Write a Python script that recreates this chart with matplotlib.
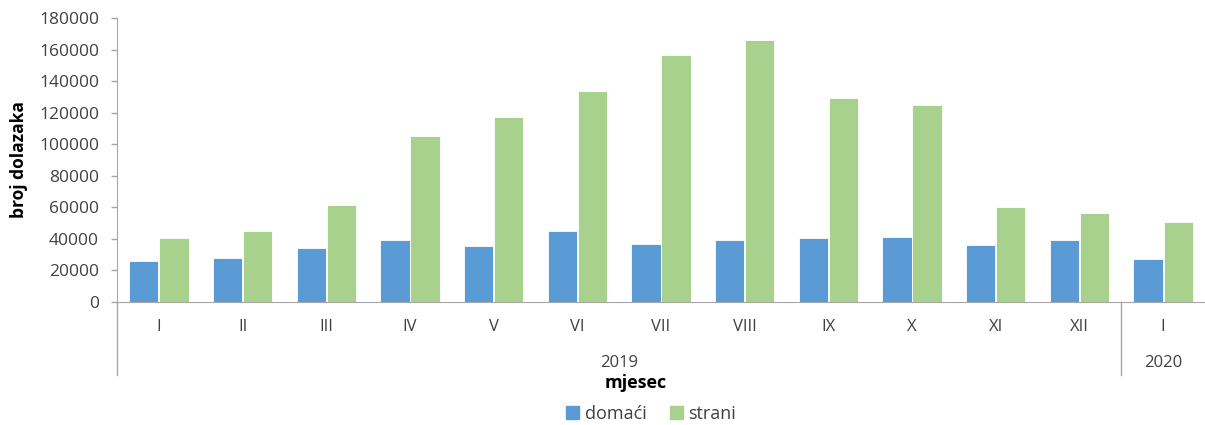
import matplotlib.pyplot as plt
import matplotlib.transforms as mtransforms
from matplotlib.patches import Patch
import numpy as np

plt.rcParams['font.family'] = ['Open Sans', 'DejaVu Sans']

mjeseci = ['I', 'II', 'III', 'IV', 'V', 'VI', 'VII', 'VIII', 'IX', 'X', 'XI', 'XII', 'I']
godine = ['2019', '2020']
domaci = [26000, 28000, 34000, 39500, 35500, 45000, 36500, 39300, 40500, 41000, 36000, 39300, 27000]
strani = [40500, 45000, 61500, 105000, 117000, 134000, 156500, 166000, 129000, 125000, 60000, 56500, 51000]

plava = '#5B9BD5'
zelena = '#A9D18E'
siva = '#A6A6A6'
tekst = '#404040'

fig = plt.figure(figsize=(12.05, 4.25), dpi=100)
ax = fig.add_axes([117/1205, 1-302/425, 1-117/1205, 284/425])

x = np.arange(len(mjeseci))
w = 0.35
ax.bar(x - 0.18, domaci, w, color=plava, edgecolor='white', linewidth=0.6)
ax.bar(x + 0.18, strani, w, color=zelena, edgecolor='white', linewidth=0.6)

ax.set_xlim(-0.5, len(mjeseci) - 0.5)
ax.set_ylim(0, 180000)
ax.set_yticks(np.arange(0, 180001, 20000))
ax.tick_params(axis='y', colors=siva, labelcolor=tekst, labelsize=12.5, length=4, width=1, pad=9)
ax.set_xticks(x)
ax.set_xticklabels(mjeseci)
ax.tick_params(axis='x', length=0, pad=12, labelcolor=tekst, labelsize=12)

for s in ['top', 'right']:
    ax.spines[s].set_visible(False)
ax.spines['left'].set_color(siva)
ax.spines['bottom'].set_color(siva)

# separatori ispod osi (kategorije po godinama)
trans = mtransforms.blended_transform_factory(ax.transData, ax.transAxes)
dno = -(375 - 302) / 284
for xs in [-0.5, 11.5]:
    ax.plot([xs, xs], [0, dno], color=siva, lw=1, transform=trans, clip_on=False)

ax.text(5.5, -(363 - 302) / 284, godine[0], transform=trans, ha='center', va='center',
        fontsize=12, color=tekst)
ax.text(12, -(363 - 302) / 284, godine[1], transform=trans, ha='center', va='center',
        fontsize=12, color=tekst)

ax.set_ylabel('broj dolazaka', fontsize=12.5, fontweight='bold')
ax.yaxis.set_label_coords(-(117 - 28) / 1088, 0.5)
fig.text(636/1205, 1 - 383/425, 'mjesec', ha='center', va='center', fontsize=13,
         fontweight='bold')

handles = [Patch(color=plava, label='domaći'), Patch(color=zelena, label='strani')]
fig.legend(handles=handles, loc='center', bbox_to_anchor=(651/1205, 1 - 414/425), ncol=2,
           frameon=False, fontsize=13, handlelength=0.72, handleheight=0.72, handletextpad=0.3,
           columnspacing=1.3, labelcolor=tekst)

fig.savefig('out.png', dpi=100)
